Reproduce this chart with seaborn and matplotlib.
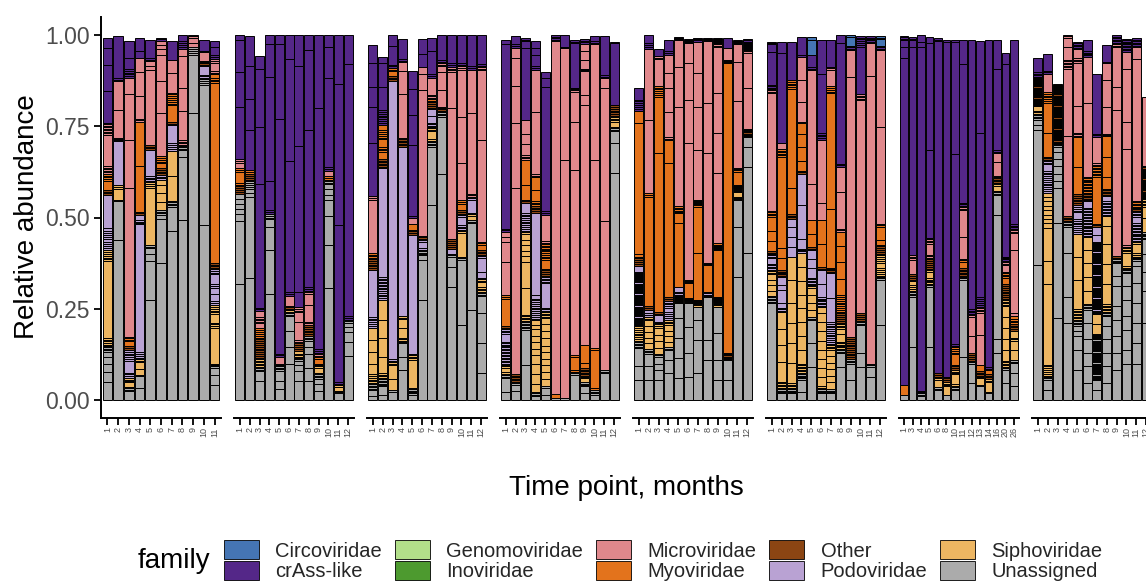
import matplotlib
matplotlib.use("Agg")
import matplotlib.pyplot as plt
from matplotlib.patches import Patch
import numpy as np
import pandas as pd
import seaborn as sns

# ---------------- data ----------------
families = ["Circoviridae", "crAss-like", "Genomoviridae", "Inoviridae", "Microviridae",
            "Myoviridae", "Other", "Podoviridae", "Siphoviridae", "Unassigned"]
family_codes = ["B", "C", "G", "I", "M", "Y", "O", "P", "S", "U"]
family_colors = ["#4575B4", "#542788", "#B2DF8A", "#4D9A2F", "#E0888C",
                 "#E3731C", "#8B4513", "#B9A2D3", "#EDB662", "#ABABAB"]

# segment sizes (% of reads) per bar, bottom to top; "v*n" = n contigs of about v %
facet1_bars = [
    "U:5,2.7,2.3,1.8,1.4,.4*5 S:.45*4,21,.5*6 P:.6*10,9.3 O:.4*3 Y:2.5,.5*4 M:.4*5,8.7,.4*8 C:8.7,7.3,4.5,2.8",
    "U:43.9,10.5 S:.5,3,.5,.6 P:11.9,.3*3 M:7.7,7.8 C:.4*2,11.5",
    "U:2.4,.4*3 S:1.2,.4*3 P:.5*3,3.2,.5*6 O:.5*2 Y:1.4,.4*3 M:40.8,13.2,12.4,4.5 C:.5*5,3,4.6",
    "U:3.2,3.3 S:.4,1.6,1.8,.4*2 P:.5*4,35,.4*3,1.5 O:.4*2 Y:12.4,12.3 M:.4*2,6.3,6.4,3.8 C:2,3.5",
    "U:27.5,10.5,2,1.6,.4*2 S:15.7,.5*4 P:.4*3,7.3 O:.4*3 M:20.5,1.3,1.2 C:.4*2,5",
    "U:37.5,12,1.3,.4*3 S:2.3,2.4,2.2,1.5 P:.4*3 O:.5*4 Y:1.2,.5*4 M:11.8,8.7,7.3,1.5,1.2,1 C:.5*2",
    "U:46.2,6.8,.4*3 S:.4,6.9,6.8 P:.5*4,5 O:.4*2 Y:4.6,.5*6 M:.5,5.5,3.5 C:5.1",
    "U:49.4,17.2,1.8,.4*4 M:.4*3,8,6.3,8.7,2.1 C:.5*4,1.7",
    "U:78.6,16,.5*4 M:1.2,1.3,.5*2",
    "U:48,38.4,.5*3 P:.4*3,2.3 O:.4*3 M:.4,2.3,.4 C:3",
    "U:4.2,2.7,1.9,.4*3 S:9.7,.5*3,2.3,.5*5 P:.5*2,2,1.7,.5*2,2.7,.5*3 O:.4*4 Y:49.3,.5*3,1 M:.4*2,2.3,.5*2 C:.5*2,2.4,1.5",
]
facet2_bars = [
    "U:31.7,17.4,1.8,1.4,1.4,1.4,1.4 O:.5*4 Y:.5*2,3,.5*2 M:1.4,.5*2 C:14.4,9.5,8.7,1.5",
    "U:33.5,22,1.2,1.2,.5*4 O:.5*4 Y:.5*2 C:11,8.5,9,8.4",
    "U:5.2,2.7,.4*3 S:.5,.4*5 O:.5*10 Y:.5*6 M:1.5,.4*4,1.6 C:.5*2,34,15.5,16,3.5",
    "U:29,12,6.4,2.1,.5*3 C:.5*2,8,28.4,9.1,2.5",
    "U:3,2.2,2.8,.4*3 O:.4*2 M:1.7 C:.5*2,64.4,20.4,2.5",
    "U:9.8,4.6,4.5,4.1,.4*3 S:.4*2 O:.4*2 M:2.7 C:.5*2,36,28,6.5",
    "U:5.2,2.7,1.8,1,.4*3 S:.4*2,.8 O:.5*4 M:.5*2,5,2.5,.5*3 C:4,40,22,8.5",
    "U:5.2,3.7,3.6,2,1.8,.4*3 O:.5*6 M:.5*2,4.5,3,.5*2 C:.5*2,43,22,4",
    "U:2.5,1.8,1.5,.4*3 S:.4,1.4,.4 O:.4*2 Y:1.3,.4*2 M:.4*2 C:.5*2,66,20.1",
    "U:30.7,11.7,8,4.5,1.4,1.4,1.4,.4*3 Y:.5*2 M:1.5 C:.5*2,24.5,8.5,3.2",
    "U:1.8,.4*2 S:1,.4 C:.5*2,43,38.5,13.5",
    "U:12,4,2.5,1.5,1.2,.4*2 C:.5*2,69,8",
]
facet3_bars = [
    "U:1.2,1.5,.4*4 S:.4*3,.5*3,3,3.2,3.3,3.3 P:.5*6,12.8 O:.5*6 Y:.4*4 M:14.6,.5*2 C:14.5,10.1,5.4,6.4,5.1",
    "U:1.5,2.2,.4*5 S:.4*4,4.6,5,5,5.5 P:.5*6,.4*8,29.9 O:.4*6 Y:2,.5*3,2,.5*5,1.5 C:.5*8,6.4,6.4,1.8",
    "U:2.3,.4 S:3,3.8,.4*2 P:.4*2,76.4 O:.4*3 Y:1.4,.4*2 C:.5*2,5,3.1",
    "U:8.2,3.7,3.6,.4*2 S:.4*2,2.5,2.5,.4*2 P:46.5 O:.4*5 M:.3,12,6.4,2.4 C:.5*2,5.5",
    "U:1.4,.4*5 S:7.6,.4*4 P:32.6 O:.5*3 Y:1.6 M:1.5 C:.5,19.6,8.2,7,4.9",
    "U:27.4,11,1.2,.4*3 P:.4*2,1.8,.4*2 O:.4*2 M:40,4.2,2.1 C:3.6,4.1",
    "U:53.4,16,.4*3 S:.4*2,2.2,.4*2 P:.4*4,1.8,1.8 O:.5*4 Y:.4*3 M:.4*2,4.6 C:.5*2,6.5,3.5",
    "U:62,15.6,.4*3 O:.4*2 Y:.4*2 M:4.5,5,1.5,.4*2 C:.5*2,6.8",
    "U:31,5.5,2.8,.4*2 P:1.4 O:.5*5 M:36,10,.4*3 C:.5*2,7.8",
    "U:20.5,17.9,.4*2 S:6.5,.5*2 P:.4*3,2.3,.4*2 O:.5*2 Y:1.8,.5*2 M:10,12.8,12.8,.5*2 C:.5*2,7.6",
    "U:24.7,23.7,.4*2 S:1.3,.4*2 P:3.6,.4*2 M:.4*2,22,11.9 C:.5*2,8.6",
    "U:7.5,8.2,8.2,4.6,.4*2 S:.4*4,1.4,.4*3 P:1.5,4,.4*2 O:.4*3 Y:1.5,.4*2 M:28,19,.4*2 C:.5*2,7.9",
]
facet4_bars = [
    "U:2.2,3.8,.4*2 S:.4*2,1.2,.4*2 P:.4*16,2.2,.4*3 O:.4*2 Y:7.6,.5*2 M:9,5.5,1.4,1.4 C:.4*2,50.6,1.2",
    "U:2.4,1.8,.4*2 O:.4*5 M:51,17.9,10,7.8,2.7 C:.5*2,2.2",
    "U:9.7,9.6,.4*5 S:.4*5,7.3,7.3,1.5,1.5,1.5,1.5,1.5,.5*2 P:.5*8,.4*2,2.8 O:.4*2 Y:4.1,6.9 M:.4*3,3.2,2.7,3.9 C:19.6,1.9,.4*2",
    "U:1,.4*3 S:2.3,2.7,2.7,2.3,1.8,1.8,1.8,1.8,1.2,1.2 P:.5*12,1.1,22.3 O:.5*4 Y:.4*3,3.2,3.5 M:.4*2,17,11.5 C:.5*2,3,2,2",
    "U:1.5,1.8,.4 S:2,2,1.8,1.8,1.8,1.8,2,2,1.8,1.7,.4*4 P:.4*3,6.8,.4*5 O:.5*4 Y:2.3,.5*4,.4*6 M:.4*2,7.3 C:.5*2,34,2.3,1.8",
    "U:.5 Y:1.1 M:96.7 C:.4*4",
    "U:.5 M:65.3,30.6 C:.4,3.2",
    "U:6.9,.4*2 Y:.4,3.7,.4 M:50.7,13.2,8.3,.4*3 C:12.2,.4*2",
    "U:1.8,1.9,.4*3 S:1,.4*2 O:.4*5 Y:1.5,5 M:65.7,2.7,6.4,.4*2,2.4,2.4,2 C:.4*3",
    "U:1.5,.4*3 Y:.6,10.5,.4 M:51.6,31.6 C:.5*2,1.2",
    "U:7.4,.4*2 M:40.8,36.5,2.7 C:.4*2,10.6",
    "U:62.2,8.2,3.2,.4*3 S:1.4,.4*4 O:.5*6 C:17,.4",
]
facet5_bars = [
    "U:5.5,3.7,5,.4*5 S:.5*8 P:.3*50,1.6 O:.5*5 Y:.7,36,3.3 C:.5*6,3.3",
    "U:5.5,3.7,3.5,.4*3 S:1.6,1.6,1.6,1.6,1.6,.4*2 P:.5*2,1 O:.5*2 Y:30,.5*2 M:20,19.5 C:.5*3,2.2",
    "U:5.5,2.7,1.8,1.8,.4*2 S:1.7,1.8,1.8,1.8,.5*2 P:.4*2,1.7 O:.4*2 Y:43.6,15.5,.5*6 M:7.3,.4*2 C:2.1",
    "U:7.3,3.7,2.7,.4*2 S:1.5,1.5,1.5,1.5,.5*3 P:.5*4,1.2,.5*4 O:.5*2 Y:36.6,6.4 M:.4*2,7,6.5,4,5 C:.5*2,3.1",
    "U:6,5.5,5.5,5.5,4 S:.3*6 P:.3*4,1.4 Y:17.5,2.7,.4*5 M:27.3,10.9,7.3 C:.3*3",
    "U:6.4,6.4,7.3,6.4 S:.3*3 O:.3*2 Y:4.1,.3*3 M:37.4,11.9,10,5.5 C:.3*4",
    "U:7.3,9.1,5.5,3.7 S:.3*3 O:.3*3 Y:12.8,12.8,.3*6 M:13.7,11.9,9.1,8.7 C:.3*3",
    "U:11,5.4,11.9 S:.3*2 P:.3*2 Y:7.5,.3*2 M:30.2,13.7,16.9 C:.3*3",
    "U:5.5,5.5,7.3,7.3 S:.3*4 O:.3*5 Y:12.8,.3*6 M:19.2,11,10.9,12.8,.3*3 C:.3*5",
    "U:5.5,5.5 S:.3*3 O:.3*3 Y:79.4,.3*3 M:3.4 C:2.7",
    "U:33.8,13.7,7.3 S:.3*3,1.2,.3*4 O:.3*3 Y:3.6,.3*3 M:18.3,10.7,4.9 C:.3*4",
    "U:40.2,23.7,5.5,2.7 O:.3*7 M:11.4,9.6,.3*3 C:.3*9",
]
facet6_bars = [
    "U:26.5,.4*5 S:1.5,1.5,1.5,1.5,.4*3 P:.4*4,1.5,.4*3 O:.4*2 Y:2.8,2.8,3.8,.4*4 M:32.2,.4*4 C:.4*2,9,2,.4*2",
    "U:1.8,.4*3 S:.4*5,5.5,4.5,4.5,4.6 P:.4*3,1.3,3.5,1.5,2 O:.4*5 Y:3.3,2.7,25.1,.4*5 M:1.6 C:24.7,3.2",
    "U:1.8,.4*3 S:.4*4,5.5,5.5,5.5,5.5,6.3,6.3 P:2.7,2.7,2.7,2.4 O:.4*3 Y:7.3,27,.5*5 C:10.5",
    "U:2.3,3.2,.4*5 S:.4*6,3.8*8 P:.4*3,2.5,9.5,8.5 O:.4*2 Y:2.8,3.7,3.7,2.8 M:.4,5.5,6,6.4 C:.4,5",
    "U:9,6.5,6.4,.4*2 S:2,2,2,2,.4*3 P:.4*4,2.6,2.5,2.5 O:.4*2 Y:3.7,3.7 M:10,31.1 C:.4*2,3.2 B:4.3,.8",
    "U:1.8,.4*3 S:.4*2,2.5*8,1.6 P:.4*7,3.7,3.7 O:.4*2 Y:6.4,6.5 M:4.6,17.3 C:.5*4,16,9.3",
    "U:1.8,.4*3 S:1.8*6,.4*4 P:.5*12,6.5,6.8 O:.4*4 Y:16,31.7,.5*4 M:4.5,.4*2 C:7.3",
    "U:9.1,3.7,.4*3 S:.4*5,2,1.5,.4*3 O:.5*6 Y:.5*10,4.5,4.5,4.4,4 M:.4*2,10,7 C:.4*2,33,2.3",
    "U:5.5,4.5,.4*3 O:.5*12 M:71.4,7.3 C:.4*3 B:2.4,.4",
    "U:9.1,3.7,7.7,.4*3 O:.5*4 M:58.5,.4*4 C:13,.5*6",
    "U:6.4,2.7,.4*2 M:79,8.8 C:.4*5",
    "U:20.5,12.4,.4*3 S:.5*4,1.5,.5*4 O:.5*6 Y:1.2,3.7,.4*2 M:26.5,21 C:.4*3 B:1.8,.4*2",
]
facet7_bars = [
    "U:1.4 Y:2.7 C:89.5,3,2,.4*3",
    "U:14.6,13.7,.4*3 S:.5*4,1 O:.5*4 M:3.9,.4*3 C:57,2,.4*2",
    "U:1,.4*2 C:.4*2,94,1.5,1.8",
    "U:14.6,16.4,.4*2 S:.4*4,1.8,.4*2 O:.5*6 M:.4*2,3,.4*3 C:.4,24,29.5,1.5",
    "U:2.7,.4*2 S:2,.4*2 O:.5*2 C:91,.4*2",
    "U:1.4 S:2.3,.4*3 O:.5*3 C:91.8,.4",
    "U:2.7,.4*2 S:.4*2,2.7,.4*3 O:.5*3 Y:2.8,.5*4 C:.4*2,52,30.9,.4",
    "U:11.9,21,.4*3 O:.4*5 Y:1.8,.4*2 M:6,7.3,.4*2 C:.4*3,38,6.6",
    "U:4.6,5.4,.4*2 O:.5*4 M:4.6,5.4,.4*2 C:.4*3,73.8",
    "U:3.7,.4 S:1.8,.4*2 O:.4*3 Y:1.8 M:8.2,6,.4*3 C:.5*6,45,25.3",
    "U:1.8,.4 S:2.7,.4*2 O:.5*3 Y:1 C:.4*2,89.6",
    "U:12.8,4,33.8,5.5,.4*3 S:1.4,.4*2 O:.4*3 M:.4*2,3.7,2.4 C:.4*2,22.4,7.8",
    "U:4.6,3.7,.4*2 S:.4*4,3,3,3,3,3,.4*5 O:.5*8 Y:1.8,.4*4 M:1.8,.4*2 C:.4*4,52.7,3",
    "U:3.7,3.7,2.7,.4*2 S:2.7,2.7,.4*2,1.8 O:.5*4 Y:.4*3,1 M:.6,17.4,4.6,.4*3 C:.4*3,50.6",
]
facet8_bars = [
    "U:37,37,1.4,1.4,.4*3 S:.4*3,1.3 O:.3*27 C:.4*3,3.9",
    "U:2.7,2.8,.4*3 S:.5*6,22,6.4,9.1,1.2*8 P:.5*12,1.8,.4*3 O:.4*2 Y:6.6,8.2,.5*6 M:5 C:.4*2,4.6",
    "U:22.4,26,9.6,2,2,2,2,2,1.4,.4*2 O:.3*55",
    "U:21,7.3,11.9,7.3,.4*4 O:.4*3 M:21.9,18.6,.4*6,3.6,2.5,.4*2",
    "U:8.2,5.5,3.7,1.5,1.5,.4*3 S:.4*8,8,6.4,6.4 P:.5*8,1.8,.5*4 O:.5*6 Y:7.4,8.2 M:.4*3,7.3,11.9,.4*3,2.5 C:.4*5",
    "U:4.6,4.6,3.7,3.7,4.6,3.5,.4*3 S:.4,3.7,3.7,3.7,3.7,3.5 P:.4*20,1.8 O:.4*5 Y:.4*12 M:20.1,12.7 C:.4*4,2.9",
    "U:2.7,2.8,.3*42 S:2.7,2.7,.4 P:.3*65,1.8,2.3 O:.4*2 Y:12.9,.4*8 M:.4,7.3 C:.4*2,16.5",
    "U:4.6,4.6,3.7,3.7,3.7,2.7,.4*3 S:.4*5,5.5,5.5,5.5,5,2.7 P:.4*10,1.5 O:.4*5 Y:3.3,5.5,5.5 M:.4*2,7.3,7.3,4.6 C:.4,4.7",
    "U:8.2,4.6,4.6,4.6,3.7,5.5,2.7,3.5,.4*3 O:.4*2 M:40,6.4,10.9,.4*3 C:.4*5",
    "U:10,3.7,5.5,3.7,4.6,3.7,3.5,.4*3 S:.4*2,3.7,.4*3 M:.4*2,26.5,7.3,14.6,4.6 C:.4*9",
    "U:10,5.5,5.5,5.5,5.5,4.6,1.5,.4*3 S:.5*2,2.5,.4*2 P:.4*12,1.8,.4*4 O:.4*3 Y:.4*4 M:38.8,3.3 C:.4*6",
    "U:21,9,5,5,4,.4*5 S:4,3,.4*5 O:.3*30 M:19",
]

labels_1_12 = [str(i) for i in range(1, 13)]
facet1_labels = [str(i) for i in range(1, 12)]
facet7_labels = ["1", "3", "4", "5", "6", "8", "10", "11", "12", "13", "14", "16", "20", "26"]

facet_bars = [facet1_bars, facet2_bars, facet3_bars, facet4_bars,
              facet5_bars, facet6_bars, facet7_bars, facet8_bars]
facet_labels = [facet1_labels, labels_1_12, labels_1_12, labels_1_12,
                labels_1_12, labels_1_12, facet7_labels, labels_1_12]

y_ticks = [0, 0.25, 0.5, 0.75, 1.0]
y_ticklabels = ["0.00", "0.25", "0.50", "0.75", "1.00"]

# ---------------- build long table ----------------
code_to_family = dict(zip(family_codes, families))
palette = dict(zip(families, family_colors))

rows = []
for f, bars in enumerate(facet_bars):
    for b, spec in enumerate(bars):
        bottom = 0.0
        for tok in spec.split():
            code, vals = tok.split(":")
            for v in vals.split(","):
                if "*" in v:
                    size, n = v.split("*")
                    parts = [float(size)] * int(n)
                else:
                    parts = [float(v)]
                for p in parts:
                    rows.append(dict(facet=f, pos=b, label=facet_labels[f][b],
                                     family=code_to_family[code],
                                     value=p / 100.0, bottom=bottom))
                    bottom += p / 100.0
df = pd.DataFrame(rows)

# ---------------- plot ----------------
sns.set_theme(style="ticks")
plt.rcParams["font.family"] = ["Liberation Sans", "DejaVu Sans"]

W, H = 1146, 582
fig = plt.figure(figsize=(W / 100, H / 100), dpi=100)

panel_top, panel_bot = 16.75, 418.25
for f in range(len(facet_bars)):
    left = 101 + 133 * f
    ax = fig.add_axes([left / W, (H - panel_bot) / H, 120 / W, (panel_bot - panel_top) / H])
    sub = df[df.facet == f]
    ax.bar(sub["pos"], sub["value"], bottom=sub["bottom"], width=0.9,
           color=sub["family"].map(palette), edgecolor="black", linewidth=0.7)
    n = len(facet_bars[f])
    ax.set_xlim(-0.6, n - 0.4)
    ax.set_ylim(-0.05, 1.05)
    ax.set_xticks(range(n))
    ax.set_xticklabels(facet_labels[f], rotation=90, fontsize=6.5, color="#4D4D4D")
    ax.tick_params(axis="x", length=5, width=1.3, color="black", pad=1.5)
    for s in ["top", "right"]:
        ax.spines[s].set_visible(False)
    ax.spines["bottom"].set_linewidth(1.4)
    ax.spines["bottom"].set_color("black")
    if f == 0:
        ax.set_yticks(y_ticks)
        ax.set_yticklabels(y_ticklabels, fontsize=16.5, color="#4D4D4D")
        ax.tick_params(axis="y", length=5, width=1.3, color="black", pad=3)
        ax.spines["left"].set_linewidth(1.4)
        ax.spines["left"].set_color("black")
    else:
        ax.spines["left"].set_visible(False)
        ax.set_yticks([])
    ax.set_xlabel("")
    ax.set_ylabel("")
    ax.set_facecolor("white")

fig.text(27 / W, 1 - 217 / H, "Relative abundance", rotation=90,
         ha="center", va="center", fontsize=20, color="black")
fig.text(626 / W, 1 - 488 / H, "Time point, months",
         ha="center", va="center", fontsize=20, color="black")
fig.text(138 / W, 1 - 561 / H, "family", ha="left", va="center",
         fontsize=20, color="black")

handles = [Patch(facecolor=palette[fm], edgecolor="black", linewidth=0.6) for fm in families]
fig.legend(handles, families, ncol=5, loc="upper left",
           bbox_to_anchor=(224 / W, 1 - 540 / H), frameon=False,
           fontsize=14.5, handlelength=1.74, handleheight=1.1,
           handletextpad=0.8, columnspacing=0.65, labelspacing=0.0,
           borderpad=0, borderaxespad=0)

fig.savefig("out.png", dpi=100, facecolor="white")
